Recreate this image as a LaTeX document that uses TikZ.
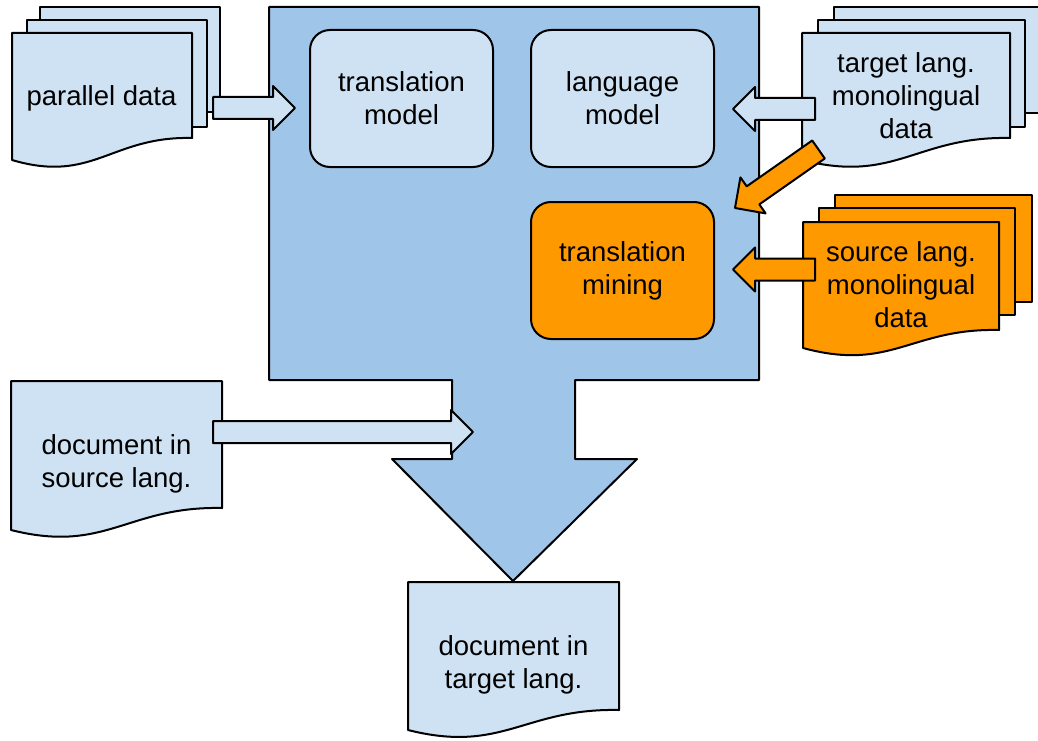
\documentclass[tikz,border=0pt]{standalone}
\usepackage{fontspec}
\setmainfont{Liberation Sans}
\usetikzlibrary{calc}

\definecolor{paleblue}{HTML}{CFE2F3}
\definecolor{midblue}{HTML}{9FC5E8}
\definecolor{mineorange}{HTML}{FF9900}

\newcommand\labelfont{\fontsize{27.5}{33}\selectfont}

\tikzset{
  outline/.style={draw=black, line width=2pt, line join=round},
  paper/.style={outline, fill=paleblue},
  orangepaper/.style={outline, fill=mineorange},
  corebody/.style={outline, fill=midblue},
  rbox/.style={outline, rounded corners=20pt, minimum width=183pt,
    minimum height=137pt, inner sep=0pt, align=center, font=\labelfont},
  txt/.style={align=center, inner sep=0pt, font=\labelfont},
}

% sheet with a wavy lower edge: left, top, right, y of right bottom, y of left bottom
\newcommand\paperdoc[6][]{%
  \draw[#1] (#2,#3) -- (#4,#3) -- (#4,#5)
    .. controls ({#2+0.55*(#4-#2)},{#5-2}) and ({#2+0.45*(#4-#2)},{#6+24}) .. (#2,#6)
    -- cycle;}

% block arrow from a start coordinate to a tip coordinate
\newcommand\blockarrow[3][]{%
  \coordinate (ba-h) at ($(#3)!22pt!(#2)$);
  \draw[#1] ($(#2)!11pt!90:(#3)$) -- ($(ba-h)!11pt!90:(#3)$)
    -- ($(ba-h)!22pt!90:(#3)$) -- (#3) -- ($(ba-h)!22pt!-90:(#3)$)
    -- ($(ba-h)!11pt!-90:(#3)$) -- ($(#2)!11pt!-90:(#3)$) -- cycle;}

\begin{document}
\begin{tikzpicture}[x=1pt,y=-1pt]
\useasboundingbox (0,0) rectangle (1038,741);

% translation system with its downward output arrow
\draw[corebody] (269,7) -- (759,7) -- (759,380) -- (575,380) -- (575,459)
  -- (637,459) -- (513,581) -- (392,459) -- (452,459) -- (452,380)
  -- (269,380) -- cycle;

% parallel data stack
\draw[paper] (40,7) rectangle (220,112);
\draw[paper] (27,20) rectangle (207,127);
\paperdoc[paper]{12}{33}{192}{138}{160}

% target language monolingual stack
\draw[paper] (834,7) rectangle (1045,113);
\draw[paper] (818,20) rectangle (1025,127);
\paperdoc[paper]{802}{33}{1010}{138}{160}

% source language monolingual stack
\draw[orangepaper] (835,195) rectangle (1032,302);
\draw[orangepaper] (819,208) rectangle (1015,315);
\paperdoc[orangepaper]{803}{222}{999}{330}{348}

% input and output documents
\paperdoc[paper]{11}{381}{222}{508}{530}
\paperdoc[paper]{408}{582}{619}{710}{730}

% system components
\node[rbox, fill=paleblue] (tm) at (401.5,98.5) {translation\\model};
\node[rbox, fill=paleblue] (lm) at (622.5,98.5) {language\\model};
\node[rbox, fill=mineorange] (tmine) at (622.5,270.5) {translation\\mining};

% document labels
\node[txt, anchor=base] (pd) at (101.5,106) {parallel data};
\node[txt] (tl) at (906,96) {target lang.\\monolingual\\data};
\node[txt] (sl) at (901,285) {source lang.\\monolingual\\data};
\node[txt] (src) at (116.5,463.5) {document in\\source lang.};
\node[txt] (tgt) at (513.5,664.5) {document in\\target lang.};

% arrow end points
\coordinate (pd-out) at (213,108);
\coordinate (tm-in) at (295,108);
\coordinate (tl-out) at (815,109);
\coordinate (lm-in) at (733,109);
\coordinate (tl-diag) at (818.5,149.5);
\coordinate (tmine-top) at (735,208);
\coordinate (sl-out) at (815,269.5);
\coordinate (tmine-in) at (733,269.5);
\coordinate (src-out) at (213,432);
\coordinate (stem-in) at (473,432);

% data flow arrows
\blockarrow[paper]{pd-out}{tm-in}
\blockarrow[paper]{tl-out}{lm-in}
\blockarrow[orangepaper]{tl-diag}{tmine-top}
\blockarrow[orangepaper]{sl-out}{tmine-in}
\blockarrow[paper]{src-out}{stem-in}
\end{tikzpicture}
\end{document}
